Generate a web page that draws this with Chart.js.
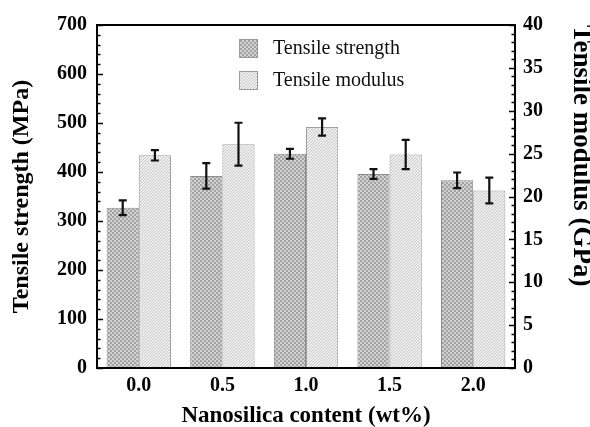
<!DOCTYPE html>
<html>
<head>
<meta charset="utf-8">
<script src="https://cdn.jsdelivr.net/npm/chart.js@4/dist/chart.umd.min.js"></script>
<style>
  html, body { margin: 0; padding: 0; background: #fff; }
  #wrap { width: 590px; height: 427px; }
</style>
</head>
<body>
<div id="wrap"><canvas id="chart" width="590" height="427"></canvas></div>
<script>
const labels = ['0.0', '0.5', '1.0', '1.5', '2.0'];
const strength = [327, 392, 437, 396, 383];      // MPa
const strengthErr = [15, 26, 10, 10, 16];
const modulus = [24.8, 26.1, 28.1, 24.9, 20.7];  // GPa
const modulusErr = [0.6, 2.5, 1.0, 1.7, 1.5];
const leftTicks = [0, 100, 200, 300, 400, 500, 600, 700];
const rightTicks = [0, 5, 10, 15, 20, 25, 30, 35, 40];

const FONT = "'Liberation Serif', 'Times New Roman', serif";

// hatch patterns
const makePattern = (draw, size) => {
    const c = document.createElement('canvas');
    c.width = size; c.height = size;
    draw(c.getContext('2d'), size);
    return c.getContext('2d').createPattern(c, 'repeat');
};

const ctx = document.getElementById('chart').getContext('2d');

const checkPattern = makePattern((g, s) => {
    g.fillStyle = '#d2d2d2';
    g.fillRect(0, 0, s, s);
    g.fillStyle = '#a2a2a2';
    g.fillRect(0, 0, 2, 2);
    g.fillRect(2, 2, 2, 2);
}, 4);

const diagPattern = makePattern((g, s) => {
    g.fillStyle = '#efefef';
    g.fillRect(0, 0, s, s);
    g.strokeStyle = '#c8c8c8';
    g.lineWidth = 1;
    for (let i = -s; i <= s * 2; i += 3) {
        g.beginPath();
        g.moveTo(i, s);
        g.lineTo(i + s, 0);
        g.stroke();
    }
}, 6);

const errorBars = {
    id: 'errorBars',
    afterDatasetsDraw(chart) {
        const c = chart.ctx;
        c.save();
        c.strokeStyle = '#111';
        c.lineWidth = 2.2;
        chart.data.datasets.forEach((ds, i) => {
            const meta = chart.getDatasetMeta(i);
            const scale = chart.scales[ds.yAxisID];
            meta.data.forEach((bar, j) => {
                const v = ds.data[j], e = ds.errors[j];
                const yt = scale.getPixelForValue(v + e);
                const yb = scale.getPixelForValue(v - e);
                const x = bar.x;
                c.beginPath();
                c.moveTo(x, yt); c.lineTo(x, yb);
                c.moveTo(x - 4, yt); c.lineTo(x + 4, yt);
                c.moveTo(x - 4, yb); c.lineTo(x + 4, yb);
                c.stroke();
            });
        });
        c.restore();
    }
};

const frame = {
    id: 'frame',
    afterDraw(chart) {
        const c = chart.ctx;
        const a = chart.chartArea;
        const yl = chart.scales.y, yr = chart.scales.y1;
        c.save();
        c.strokeStyle = '#000';
        c.lineWidth = 1.5;
        // minor + major ticks, inward
        for (let v = 0; v <= 700; v += 20) {
            const y = Math.round(yl.getPixelForValue(v)) + 0.5;
            const len = v % 100 === 0 ? 6 : 3.5;
            c.beginPath(); c.moveTo(a.left, y); c.lineTo(a.left + len, y); c.stroke();
        }
        for (let v = 0; v <= 40; v += 1) {
            const y = Math.round(yr.getPixelForValue(v)) + 0.5;
            const len = v % 5 === 0 ? 6 : 3.5;
            c.beginPath(); c.moveTo(a.right, y); c.lineTo(a.right - len, y); c.stroke();
        }
        c.lineWidth = 2;
        c.strokeRect(a.left, a.top, a.right - a.left, a.bottom - a.top);

        // legend
        const items = chart.data.datasets;
        items.forEach((ds, i) => {
            const bx = 239, by = 39 + i * 32;
            c.fillStyle = ds.backgroundColor;
            c.fillRect(bx, by, 19, 19);
            c.strokeStyle = '#9a9a9a';
            c.lineWidth = 1;
            c.strokeRect(bx + 0.5, by + 0.5, 18, 18);
            c.fillStyle = '#111';
            c.font = '20px ' + FONT;
            c.textBaseline = 'middle';
            c.fillText(ds.label, 273, by + 10);
        });
        c.restore();
    }
};

new Chart(ctx, {
    type: 'bar',
    data: {
        labels: labels,
        datasets: [{
            label: 'Tensile strength',
            data: strength,
            errors: strengthErr,
            yAxisID: 'y',
            backgroundColor: checkPattern,
            borderColor: '#8c8c8c',
            borderWidth: 1,
            barPercentage: 1.0,
            categoryPercentage: 0.77
        }, {
            label: 'Tensile modulus',
            data: modulus,
            errors: modulusErr,
            yAxisID: 'y1',
            backgroundColor: diagPattern,
            borderColor: '#a0a0a0',
            borderWidth: 1,
            barPercentage: 1.0,
            categoryPercentage: 0.77
        }]
    },
    options: {
        responsive: false,
        animation: false,
        layout: { padding: { top: 25, left: 0, right: 0, bottom: 0 } },
        plugins: {
            legend: { display: false },
            tooltip: { enabled: false }
        },
        scales: {
            x: {
                grid: { display: false, drawTicks: false },
                border: { display: false },
                ticks: { padding: 6, color: '#000', font: { family: FONT, size: 20, weight: 'bold' } },
                title: {
                    display: true,
                    text: 'Nanosilica content (wt%)',
                    color: '#000',
                    padding: { top: 0, bottom: -1 },
                    font: { family: FONT, size: 23, weight: 'bold', lineHeight: 1 }
                },
                afterFit: s => { s.height = 59; }
            },
            y: {
                position: 'left',
                min: 0, max: 700,
                afterBuildTicks: s => { s.ticks = leftTicks.map(v => ({ value: v })); },
                grid: { display: false, drawTicks: false },
                border: { display: false },
                ticks: { padding: 10, color: '#000', font: { family: FONT, size: 20, weight: 'bold' } },
                title: {
                    display: true,
                    text: 'Tensile strength (MPa)',
                    color: '#000',
                    padding: { top: 10, bottom: 0 },
                    font: { family: FONT, size: 24, weight: 'bold', lineHeight: 1 }
                },
                afterFit: s => { s.width = 97; }
            },
            y1: {
                position: 'right',
                min: 0, max: 40,
                afterBuildTicks: s => { s.ticks = rightTicks.map(v => ({ value: v })); },
                grid: { display: false, drawTicks: false },
                border: { display: false },
                ticks: { padding: 8, color: '#000', font: { family: FONT, size: 20, weight: 'bold' } },
                title: {
                    display: true,
                    text: 'Tensile modulus (GPa)',
                    align: 'end',
                    color: '#000',
                    padding: { top: -4, bottom: 0 },
                    font: { family: FONT, size: 27, weight: 'bold', lineHeight: 1 }
                },
                afterFit: s => { s.width = 75; }
            }
        }
    },
    plugins: [errorBars, frame]
});
</script>
</body>
</html>
